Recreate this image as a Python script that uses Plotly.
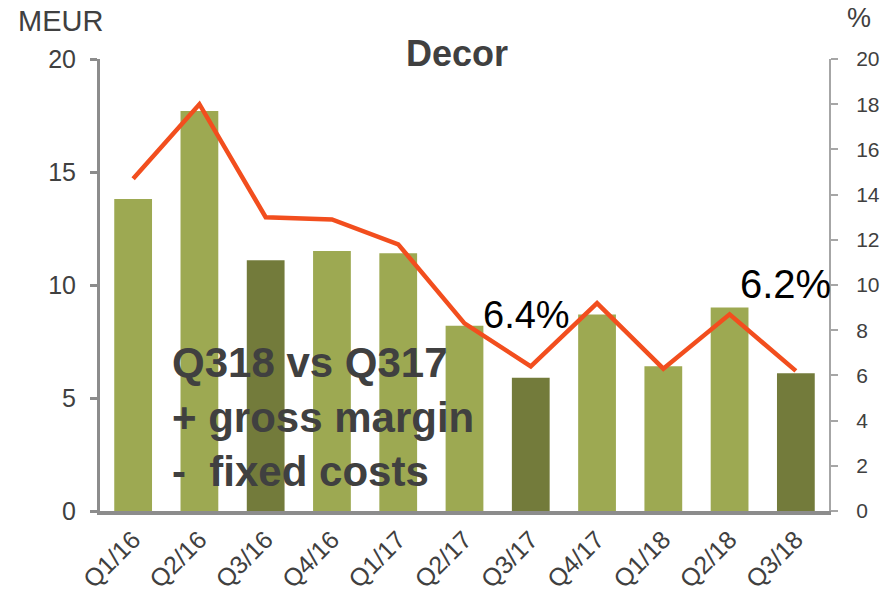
import plotly.graph_objects as go

categories = ["Q1/16", "Q2/16", "Q3/16", "Q4/16", "Q1/17", "Q2/17", "Q3/17", "Q4/17", "Q1/18", "Q2/18", "Q3/18"]
revenue_meur = [13.8, 17.7, 11.1, 11.5, 11.4, 8.2, 5.9, 8.7, 6.4, 9.0, 6.1]
margin_pct = [14.7, 18.0, 13.0, 12.9, 11.8, 8.3, 6.4, 9.2, 6.3, 8.7, 6.2]
highlight = ["Q3/16", "Q3/17", "Q3/18"]
left_ticks = [0, 5, 10, 15, 20]
right_ticks = [0, 2, 4, 6, 8, 10, 12, 14, 16, 18, 20]

LIGHT = "#9DA952"
DARK = "#737B3B"
LINE = "#F24E1E"
TXT = "#404040"
FONT = "Arial, Liberation Sans, sans-serif"

W, H = 885, 597
L, R, T, B = 100, 56, 59, 86
PW, PH = W - L - R, H - T - B


def px(x):
    return (x - L) / PW


def py(y):
    return (H - B - y) / PH


bar_colors = [DARK if c in highlight else LIGHT for c in categories]

fig = go.Figure()
fig.add_trace(go.Bar(x=categories, y=revenue_meur, marker=dict(color=bar_colors, line=dict(width=0)),
                     width=0.57, yaxis="y", hoverinfo="skip"))
fig.add_trace(go.Scatter(x=categories, y=margin_pct, mode="lines", line=dict(color=LINE, width=4.5),
                         yaxis="y2", hoverinfo="skip"))

fig.update_layout(
    template="none",
    width=W, height=H,
    margin=dict(l=L, r=R, t=T, b=B, pad=0),
    plot_bgcolor="white", paper_bgcolor="white",
    showlegend=False,
    font=dict(family=FONT, color=TXT),
    xaxis=dict(tickangle=-45, tickfont=dict(size=25, color=TXT), showline=True, linecolor="#8C8C8C",
               linewidth=4, ticks="", showgrid=False, zeroline=False, domain=[0, 1], automargin=False),
    yaxis=dict(range=[0, 20], tickvals=left_ticks, tickfont=dict(size=25, color=TXT), showline=True,
               linecolor="#8C8C8C", linewidth=3, ticks="outside", ticklen=7, tickcolor="#8C8C8C",
               tickwidth=3, showgrid=False, zeroline=False, ticklabelstandoff=9, automargin=False),
    yaxis2=dict(range=[0, 20], tickvals=right_ticks, tickfont=dict(size=21, color=TXT), overlaying="y",
                side="right", showline=True, linecolor="#A6A6A6", linewidth=2, ticks="outside", ticklen=7,
                tickcolor="#A6A6A6", tickwidth=2, showgrid=False, zeroline=False, ticklabelstandoff=14,
                automargin=False),
    bargap=0.43,
)


def note(text, x, y, size, color=TXT, xanchor="center", align="center"):
    fig.add_annotation(text=text, x=px(x), y=py(y), xref="paper", yref="paper", showarrow=False,
                       font=dict(size=size, color=color, family=FONT), xanchor=xanchor, yanchor="middle",
                       align=align)


note("<b>Decor</b>", 457, 54, 36)
note("MEUR", 60, 21, 29)
note("%", 859, 18, 27)
note("6.4%", 526, 315, 38, color="black")
note("6.2%", 785, 284, 40, color="black")
note("<b>Q318 vs Q317<br>+ gross margin<br>-  fixed costs</b>", 170, 417, 42, xanchor="left", align="left")

fig.write_html("out.html", config={"displayModeBar": False, "staticPlot": True},
               post_script="document.body.style.margin='0px';document.body.style.overflow='hidden';")
